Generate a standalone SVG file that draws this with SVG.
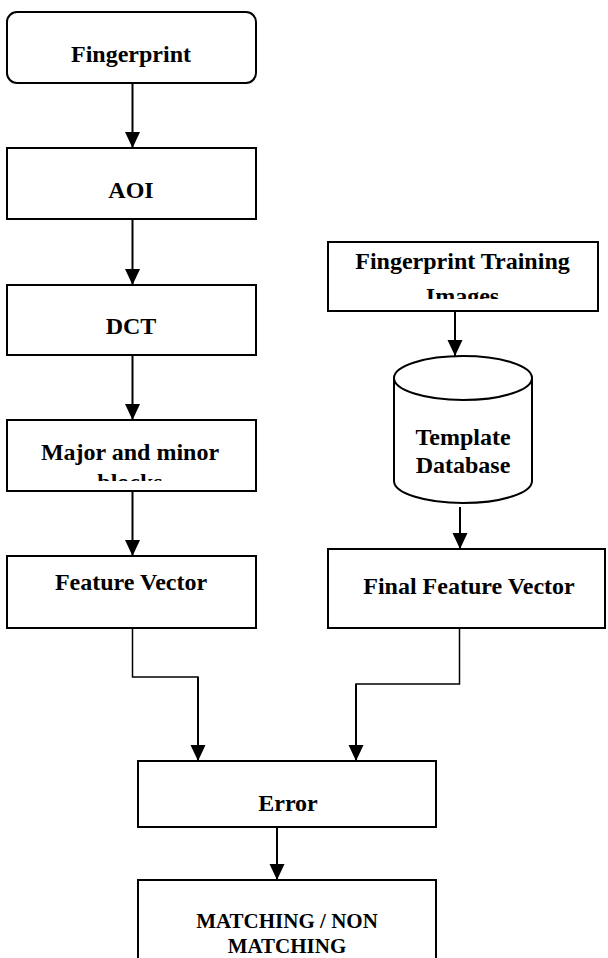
<svg xmlns="http://www.w3.org/2000/svg" width="608" height="958" viewBox="0 0 608 958">
  <style>
    .box { fill: #ffffff; stroke: #000000; stroke-width: 2; }
    .lbl { font-family: "Liberation Serif", "Times New Roman", serif; font-weight: bold; font-size: 24px; fill: #000000; text-anchor: middle; }
    .small { font-size: 21px; }
    .wire { fill: none; stroke: #000000; stroke-width: 2; }
    .elbow { fill: none; stroke: #000000; stroke-width: 1.5; }
  </style>
  <defs>
    <marker id="head" viewBox="0 0 16 16" refX="16" refY="8" markerWidth="16" markerHeight="16" markerUnits="userSpaceOnUse" orient="auto">
      <path d="M0,0.5 L16,8 L0,15.5 Z" fill="#000000"/>
    </marker>
    <clipPath id="clipMajor"><rect x="7" y="420" width="249" height="61"/></clipPath>
    <clipPath id="clipTraining"><rect x="328" y="242" width="270" height="57"/></clipPath>
  </defs>

  <!-- connectors -->
  <g id="connectors">
    <line class="wire" x1="132.5" y1="83" x2="132.5" y2="148" marker-end="url(#head)"/>
    <line class="wire" x1="132.5" y1="219" x2="132.5" y2="285" marker-end="url(#head)"/>
    <line class="wire" x1="132.5" y1="355" x2="132.5" y2="420" marker-end="url(#head)"/>
    <line class="wire" x1="132.5" y1="491" x2="132.5" y2="556" marker-end="url(#head)"/>
    <line class="wire" x1="455" y1="311" x2="455" y2="356" marker-end="url(#head)"/>
    <line class="wire" x1="460" y1="507" x2="460" y2="549" marker-end="url(#head)"/>
    <path class="elbow" d="M132.5,628 V677 H198"/>
    <line class="wire" x1="198" y1="676.5" x2="198" y2="761" marker-end="url(#head)"/>
    <path class="elbow" d="M459.5,628 V684 H356"/>
    <line class="wire" x1="356" y1="683.5" x2="356" y2="761" marker-end="url(#head)"/>
    <line class="wire" x1="277" y1="827" x2="277" y2="880" marker-end="url(#head)"/>
  </g>

  <!-- left column -->
  <g id="fingerprint">
    <rect class="box" x="7" y="12" width="249" height="71" rx="10" ry="10"/>
    <text class="lbl" x="131" y="62">Fingerprint</text>
  </g>
  <g id="aoi">
    <rect class="box" x="7" y="148" width="249" height="71"/>
    <text class="lbl" x="131" y="198">AOI</text>
  </g>
  <g id="dct">
    <rect class="box" x="7" y="285" width="249" height="70"/>
    <text class="lbl" x="131" y="334">DCT</text>
  </g>
  <g id="blocks">
    <rect class="box" x="7" y="420" width="249" height="71"/>
    <g clip-path="url(#clipMajor)">
      <text class="lbl" x="130" y="460">Major and minor</text>
      <text class="lbl" x="130" y="490">blocks</text>
    </g>
  </g>
  <g id="feature-vector">
    <rect class="box" x="7" y="556" width="249" height="72"/>
    <text class="lbl" x="131" y="590">Feature Vector</text>
  </g>

  <!-- right column -->
  <g id="training-images">
    <rect class="box" x="328" y="242" width="270" height="69"/>
    <g clip-path="url(#clipTraining)">
      <text class="lbl" x="462.5" y="269">Fingerprint Training</text>
      <text class="lbl" x="462.5" y="304">Images</text>
    </g>
  </g>
  <g id="template-database">
    <path class="box" d="M394,378 V481 A69,22 0 0 0 532,481 V378"/>
    <ellipse class="box" cx="463" cy="378" rx="69" ry="22"/>
    <text class="lbl" x="463" y="445">Template</text>
    <text class="lbl" x="463" y="473">Database</text>
  </g>
  <g id="final-feature-vector">
    <rect class="box" x="328" y="549" width="277" height="79"/>
    <text class="lbl" x="469" y="594">Final Feature Vector</text>
  </g>

  <!-- bottom -->
  <g id="error">
    <rect class="box" x="138" y="761" width="298" height="66"/>
    <text class="lbl" x="288" y="811">Error</text>
  </g>
  <g id="decision">
    <rect class="box" x="138" y="880" width="298" height="100"/>
    <text class="lbl small" x="287" y="928">MATCHING / NON</text>
    <text class="lbl small" x="287" y="953">MATCHING</text>
  </g>
</svg>
